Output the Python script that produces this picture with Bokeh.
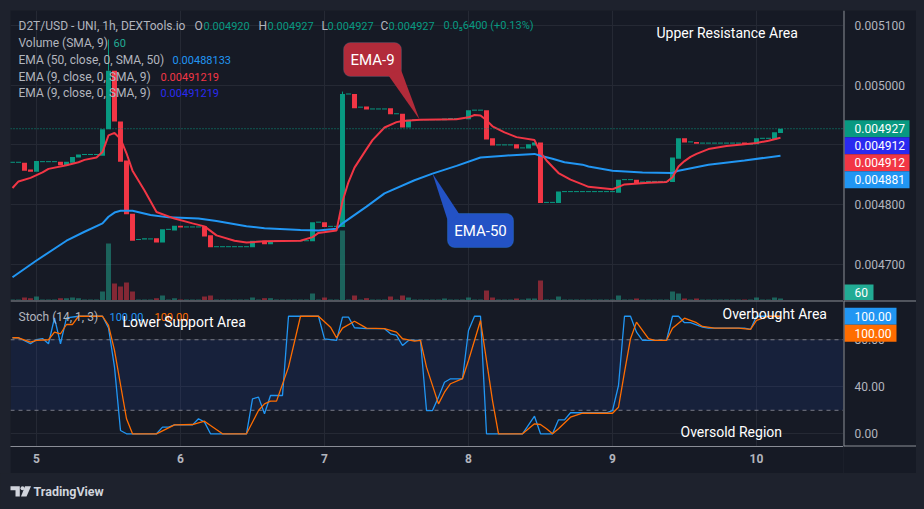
from bokeh.plotting import figure
from bokeh.models import (Range1d, FixedTicker, Span, Label,
                          BoxAnnotation, PolyAnnotation, Grid, Spacer, ColumnDataSource)
from bokeh.layouts import column, row
from bokeh.core.properties import value
from bokeh.embed import file_html
from bokeh.resources import INLINE

# ---------------- data ----------------
hours = list(range(-4, 125))          # hours since day 5, 00:00 (1h candles)
opens = [
    0.004871, 0.004871, 0.004870, 0.004859, 0.004855, 0.004872, 0.004872, 0.004872, 0.004872, 0.004866,
    0.004870, 0.004879, 0.004884, 0.004884, 0.004884, 0.004882, 0.004926, 0.005024, 0.004939, 0.004874,
    0.004785, 0.004742, 0.004742, 0.004743, 0.004744, 0.004737, 0.004759, 0.004757, 0.004765, 0.004763,
    0.004763, 0.004763, 0.004764, 0.004749, 0.004730, 0.004730, 0.004730, 0.004730, 0.004730, 0.004730,
    0.004729, 0.004739, 0.004740, 0.004734, 0.004740, 0.004740, 0.004740, 0.004740, 0.004740, 0.004740,
    0.004739, 0.004771, 0.004771, 0.004764, 0.004764, 0.004763, 0.004985, 0.004985, 0.004963, 0.004964,
    0.004960, 0.004960, 0.004960, 0.004961, 0.004952, 0.004952, 0.004929, 0.004942, 0.004942, 0.004942,
    0.004942, 0.004942, 0.004941, 0.004944, 0.004944, 0.004944, 0.004943, 0.004958, 0.004958, 0.004958,
    0.004911, 0.004900, 0.004900, 0.004900, 0.004901, 0.004895, 0.004894, 0.004899, 0.004904, 0.004804,
    0.004804, 0.004803, 0.004822, 0.004822, 0.004822, 0.004822, 0.004822, 0.004822, 0.004822, 0.004822,
    0.004822, 0.004820, 0.004842, 0.004842, 0.004842, 0.004837, 0.004839, 0.004839, 0.004839, 0.004839,
    0.004838, 0.004877, 0.004911, 0.004905, 0.004905, 0.004903, 0.004903, 0.004903, 0.004903, 0.004903,
    0.004903, 0.004903, 0.004904, 0.004901, 0.004901, 0.004911, 0.004911, 0.004909, 0.004920,
]
closes = [
    0.004871, 0.004871, 0.004857, 0.004855, 0.004873, 0.004872, 0.004872, 0.004872, 0.004866, 0.004872,
    0.004880, 0.004884, 0.004884, 0.004884, 0.004884, 0.004926, 0.005024, 0.004939, 0.004872, 0.004784,
    0.004740, 0.004742, 0.004744, 0.004743, 0.004737, 0.004759, 0.004759, 0.004765, 0.004762, 0.004763,
    0.004763, 0.004763, 0.004747, 0.004729, 0.004730, 0.004730, 0.004730, 0.004730, 0.004730, 0.004730,
    0.004740, 0.004739, 0.004734, 0.004740, 0.004740, 0.004740, 0.004740, 0.004740, 0.004740, 0.004740,
    0.004771, 0.004771, 0.004763, 0.004764, 0.004764, 0.004985, 0.004985, 0.004961, 0.004963, 0.004959,
    0.004960, 0.004960, 0.004960, 0.004951, 0.004952, 0.004929, 0.004942, 0.004942, 0.004942, 0.004942,
    0.004942, 0.004942, 0.004944, 0.004944, 0.004944, 0.004944, 0.004958, 0.004958, 0.004958, 0.004909,
    0.004899, 0.004900, 0.004900, 0.004900, 0.004894, 0.004895, 0.004901, 0.004904, 0.004803, 0.004804,
    0.004804, 0.004822, 0.004822, 0.004822, 0.004822, 0.004822, 0.004822, 0.004822, 0.004822, 0.004822,
    0.004822, 0.004842, 0.004842, 0.004842, 0.004836, 0.004839, 0.004839, 0.004839, 0.004839, 0.004839,
    0.004879, 0.004911, 0.004904, 0.004905, 0.004902, 0.004903, 0.004903, 0.004903, 0.004903, 0.004903,
    0.004903, 0.004903, 0.004901, 0.004901, 0.004911, 0.004911, 0.004911, 0.004921, 0.004927,
]
wick_hours = [12, 51]
wick_highs = [0.005076, 0.004989]
volumes = [
    30, 30, 90, 70, 120, 30, 30, 30, 70, 70,
    90, 70, 30, 30, 30, 270, 1710, 510, 420, 540,
    270, 30, 30, 30, 70, 150, 30, 70, 30, 30,
    30, 30, 120, 150, 30, 30, 30, 30, 30, 30,
    90, 30, 70, 70, 30, 30, 30, 30, 30, 30,
    210, 30, 90, 30, 30, 2100, 30, 150, 30, 70,
    30, 30, 30, 120, 30, 150, 90, 30, 30, 30,
    30, 30, 60, 30, 30, 30, 90, 30, 30, 300,
    90, 30, 30, 30, 60, 30, 60, 60, 600, 30,
    30, 120, 30, 30, 30, 30, 30, 30, 30, 30,
    30, 150, 30, 30, 60, 30, 30, 30, 30, 30,
    270, 210, 60, 30, 60, 30, 30, 30, 30, 30,
    30, 30, 30, 30, 90, 30, 30, 90, 60,
]
ema9_hours = [-4, -3, -1, 1, 2, 5, 7, 8, 10, 11, 12, 13, 14, 15, 16, 18, 20, 23, 26, 28,
              30, 33, 35, 38, 44, 46, 47, 50, 51, 52, 53, 55, 56, 58, 60, 61, 64, 70, 72, 73,
              74, 75, 76, 78, 80, 83, 84, 85, 87, 89, 91, 92, 96, 97, 98, 102, 105, 106, 107, 108,
              109, 110, 112, 115, 118, 120, 122, 124]
ema9_values = [0.004828, 0.004839, 0.004845, 0.004854, 0.004860, 0.004866, 0.004871, 0.004875, 0.004879, 0.004888,
               0.004916, 0.004920, 0.004910, 0.004886, 0.004857, 0.004824, 0.004788, 0.004777, 0.004769, 0.004764,
               0.004749, 0.004740, 0.004737, 0.004739, 0.004740, 0.004746, 0.004753, 0.004757, 0.004806, 0.004838,
               0.004862, 0.004893, 0.004908, 0.004929, 0.004938, 0.004940, 0.004942, 0.004943, 0.004946, 0.004950,
               0.004949, 0.004941, 0.004931, 0.004921, 0.004913, 0.004908, 0.004887, 0.004874, 0.004853, 0.004842,
               0.004834, 0.004830, 0.004826, 0.004830, 0.004834, 0.004837, 0.004838, 0.004846, 0.004864, 0.004873,
               0.004880, 0.004885, 0.004893, 0.004898, 0.004901, 0.004903, 0.004907, 0.004912]
ema50_hours = [-4, 0, 5, 8, 11, 12, 13, 14, 16, 19, 22, 27, 30, 35, 38, 44, 47, 50, 51, 55,
               58, 63, 66, 70, 74, 78, 83, 84, 86, 88, 91, 92, 96, 101, 106, 107, 112, 118, 124]
ema50_values = [0.004679, 0.004707, 0.004740, 0.004755, 0.004769, 0.004780, 0.004787, 0.004790, 0.004790, 0.004783,
                0.004779, 0.004777, 0.004773, 0.004764, 0.004761, 0.004758, 0.004757, 0.004760, 0.004769, 0.004797,
                0.004819, 0.004841, 0.004852, 0.004865, 0.004879, 0.004882, 0.004885, 0.004882, 0.004877, 0.004871,
                0.004867, 0.004864, 0.004857, 0.004854, 0.004853, 0.004857, 0.004867, 0.004874, 0.004882]
k_hours = [-4, -3, -1, 0, 1, 2, 3, 4, 5, 7, 11, 12, 13, 14, 15, 20, 21, 22, 23, 26,
           27, 28, 29, 35, 36, 37, 38, 39, 41, 42, 47, 48, 50, 51, 52, 53, 55, 58, 59, 60,
           61, 62, 64, 65, 66, 67, 68, 69, 71, 72, 73, 74, 75, 81, 83, 84, 86, 87, 88, 89,
           95, 96, 97, 98, 99, 100, 101, 105, 106, 107, 108, 109, 111, 112, 118, 119, 120, 124]
k_values = [81.7, 81.7, 76.6, 80, 81, 76.6, 98.7, 76.6, 98.7, 100, 100, 90, 56.7, 2.8, 0, 0, 5.7, 5.7, 7.6, 7.6,
            12.8, 9.9, 0, 0, 29.8, 31.2, 17, 32.6, 32.6, 100, 100, 80.7, 79.4, 99.3, 99.3, 90.2, 89.4, 89.4, 85.1, 83.7,
            75.1, 79.4, 79.4, 19.8, 19.8, 31.2, 43.9, 46.8, 46.8, 87.9, 100, 100, 0, 0, 15, 0, 0, 11.9, 11.9, 17.9,
            17.9, 19.8, 41.1, 100, 100, 86.5, 79.4, 79.4, 100, 100, 94.5, 94.5, 90.7, 89.9, 89.9, 88.8, 100, 100]
d_hours = [-4, -3, -1, 0, 2, 3, 4, 5, 6, 7, 11, 12, 13, 15, 16, 20, 23, 26, 28, 29,
           31, 35, 37, 38, 39, 40, 42, 44, 47, 49, 50, 51, 53, 55, 58, 60, 61, 63, 64, 65,
           67, 68, 69, 71, 72, 73, 74, 75, 76, 77, 81, 82, 83, 84, 85, 86, 87, 89, 91, 96,
           97, 98, 99, 100, 101, 102, 103, 105, 106, 108, 110, 111, 113, 117, 119, 120, 122, 124]
d_values = [81.7, 81.7, 78, 79.4, 80, 86.5, 85.1, 93, 93, 100, 100, 92.2, 70.9, 12.8, 0, 0, 7.6, 7.9, 10.7, 7,
            0, 0, 19.8, 25.5, 27.8, 27.8, 56.7, 100, 100, 90.7, 81.7, 89.9, 95.8, 89.9, 89.4, 86.5, 80.9, 78.9, 79.4, 56.7,
            25.5, 35.4, 42.6, 47, 62.4, 79.4, 96.4, 62.4, 28.3, 0, 0, 4.3, 8.5, 7.9, 4.3, 0, 4.3, 14.1, 17.5, 17.5,
            22.6, 52.4, 80.9, 95, 87.9, 80.9, 79.4, 79.4, 89.8, 98.4, 94.5, 91.3, 89.9, 89.9, 88.8, 96.4, 100, 100]

price_ticks = [0.0047, 0.0048, 0.0049, 0.0050, 0.0051]
stoch_ticks = [0, 40, 80]
day_ticks = [0, 24, 48, 72, 96, 120]
day_labels = ["5", "6", "7", "8", "9", "10"]
ema9_last = 0.00491219
ema50_last = 0.00488133
volume_last = 60
legend_title = "D2T/USD - UNI, 1h, DEXTools.io"
legend_ohlc = [("O", "0.004920"), ("H", "0.004927"), ("L", "0.004927"), ("C", "0.004927")]
legend_change = "0.0\u20856400 (+0.13%)"

assert len(opens) == len(hours) == len(closes) == len(volumes)
assert len(ema9_hours) == len(ema9_values) and len(ema50_hours) == len(ema50_values)
assert len(k_hours) == len(k_values) and len(d_hours) == len(d_values)

# ---------------- style ----------------
OUTER = "#1e222d"
INNER = "#161a25"
GRID = "#252934"
SEP = "#8a8d96"
TXT = "#b2b5be"
UP = "#089981"
DOWN = "#f23645"
EMA50_C = "#2196f3"
EMA9_C = "#f23645"
EMA9B_C = "#2a2af0"
K_C = "#2196f3"
D_C = "#ff6d00"
FONT = "Roboto"

X_START, X_END = -4.3333, 134.5
P_BOT, P_TOP = 0.0046402, 0.0051244
S_BOT, S_TOP = -10.8, 113.4
MAIN_H, STOCH_H = 290, 146
P_PX = (P_TOP - P_BOT) / MAIN_H       # price per pixel
S_PX = (S_TOP - S_BOT) / STOCH_H      # stoch units per pixel


def hx(px):
    return X_START + (px - 10) / 6.0


def py_main(y):
    return P_TOP - (y - 10) * P_PX


def py_stoch(y):
    return S_TOP - (y - 300) * S_PX


def add_text(p, x, y, text, color, size="12px", style="normal", align="left"):
    p.add_layout(Label(x=x, y=y, text=text, text_color=color, text_font=FONT, text_font_size=size,
                       text_font_style=style, text_align=align, text_baseline="middle"))


def style_common(p):
    p.background_fill_color = INNER
    p.border_fill_color = INNER
    p.outline_line_color = None
    for g in p.grid:
        g.visible = False


def scale_panel(height, y_range, bottom):
    s = figure(width=73, height=height, x_range=Range1d(0, 73), y_range=y_range,
               output_backend="svg", toolbar_location=None, tools="", x_axis_location=None,
               y_axis_location=None, min_border_left=0, min_border_right=0, min_border_top=0,
               min_border_bottom=bottom)
    style_common(s)
    s.add_layout(Span(location=0, dimension="height", line_color=SEP, line_width=2))
    return s


def tag(s, yc, half, text, bg, width):
    s.quad(left=[1], right=[1 + width], top=[yc + half], bottom=[yc - half], fill_color=bg, line_color=None)
    s.text(x=[11], y=[yc], text=[text], text_color="#ffffff", text_font=value(FONT),
           text_font_size="12px", text_baseline="middle", text_align="left")


# ---------------- main pane ----------------
p1 = figure(width=833, height=MAIN_H, x_range=Range1d(X_START, X_END), y_range=Range1d(P_BOT, P_TOP),
            output_backend="svg", toolbar_location=None, tools="", x_axis_location=None,
            y_axis_location=None, min_border=0)
style_common(p1)
p1.add_layout(Grid(dimension=0, ticker=FixedTicker(ticks=day_ticks), grid_line_color=GRID))
p1.add_layout(Grid(dimension=1, ticker=FixedTicker(ticks=price_ticks), grid_line_color=GRID))

p1.extra_y_ranges = {"vol": Range1d(0, MAIN_H * 30)}
up = [c >= o for o, c in zip(opens, closes)]
vol_colors = ["#22ab94" if u else DOWN for u in up]
p1.vbar(x=hours, top=volumes, width=0.83, y_range_name="vol", fill_color=vol_colors,
        fill_alpha=0.5, line_color=None)

body = dict(x=[], top=[], bottom=[], color=[])
flat = dict(x0=[], x1=[], y=[])
for h, o, c, u in zip(hours, opens, closes, up):
    if o == c:
        flat["x0"].append(h - 0.415)
        flat["x1"].append(h + 0.415)
        flat["y"].append(c)
    else:
        body["x"].append(h)
        body["top"].append(max(o, c))
        body["bottom"].append(min(o, c))
        body["color"].append(UP if u else DOWN)
wick_base = [max(opens[hours.index(h)], closes[hours.index(h)]) for h in wick_hours]
p1.segment(x0=wick_hours, x1=wick_hours, y0=wick_base, y1=wick_highs, line_color=UP, line_width=1)
p1.vbar(x="x", top="top", bottom="bottom", width=0.83, fill_color="color", line_color=None,
        source=ColumnDataSource(body))
p1.segment(x0="x0", y0="y", x1="x1", y1="y", line_color=UP, line_width=1, source=ColumnDataSource(flat))

p1.line(ema50_hours, ema50_values, line_color=EMA50_C, line_width=2)
p1.line(ema9_hours, ema9_values, line_color=EMA9_C, line_width=2)

p1.add_layout(Span(location=closes[-1], dimension="width", line_color=UP, line_dash="1 2", line_width=1))

# legend
add_text(p1, hx(18), py_main(25), legend_title, TXT)
for (lab, val), xl, xv in zip(legend_ohlc, [194, 258, 321, 380], [203, 267, 327, 388]):
    add_text(p1, hx(xl), py_main(25), lab, TXT)
    add_text(p1, hx(xv), py_main(25), val, UP, size="11px")
add_text(p1, hx(443), py_main(25), legend_change, UP, size="11px")
add_text(p1, hx(18), py_main(42.5), "Volume (SMA, 9)", TXT)
add_text(p1, hx(113), py_main(42.5), str(volume_last), "#22ab94", size="11px")
add_text(p1, hx(18), py_main(59), "EMA (50, close, 0, SMA, 50)", TXT)
add_text(p1, hx(172), py_main(59), f"{ema50_last:.8f}", EMA50_C, size="11px")
add_text(p1, hx(18), py_main(76), "EMA (9, close, 0, SMA, 9)", TXT)
add_text(p1, hx(160), py_main(76), f"{ema9_last:.8f}", EMA9_C, size="11px")
add_text(p1, hx(18), py_main(92), "EMA (9, close, 0, SMA, 9)", TXT)
add_text(p1, hx(160), py_main(92), f"{ema9_last:.8f}", EMA9B_C, size="11px")

add_text(p1, hx(656), py_main(32), "Upper Resistance Area", "#ffffff", size="14px")

# callouts
p1.add_layout(BoxAnnotation(left=hx(343), right=hx(401), top=py_main(42), bottom=py_main(76),
                            fill_color="#b22b3a", fill_alpha=1.0, line_color="#2d6f8c", line_width=1,
                            border_radius=7))
p1.add_layout(PolyAnnotation(xs=[hx(388), hx(400), hx(419)], ys=[py_main(75), py_main(68), py_main(119)],
                             fill_color="#b22b3a", fill_alpha=1.0, line_color=None))
add_text(p1, hx(372), py_main(59), "EMA-9", "#ffffff", size="15px", align="center")
p1.add_layout(BoxAnnotation(left=hx(447), right=hx(513), top=py_main(213), bottom=py_main(247),
                            fill_color="#2352c5", fill_alpha=1.0, line_color="#2a8be0", line_width=1,
                            border_radius=7))
p1.add_layout(PolyAnnotation(xs=[hx(448.5), hx(459), hx(432)], ys=[py_main(224), py_main(214), py_main(173)],
                             fill_color="#2352c5", fill_alpha=1.0, line_color=None))
add_text(p1, hx(480), py_main(230), "EMA-50", "#ffffff", size="15px", align="center")

# ---------------- price scale panel ----------------
p1r = scale_panel(MAIN_H, p1.y_range, 0)
p1r.text(x=[11] * len(price_ticks), y=price_ticks, text=[f"{t:.6f}" for t in price_ticks],
         text_color=TXT, text_font=value(FONT), text_font_size="12px", text_baseline="middle")
tags = [(f"{closes[-1]:.6f}", UP), (f"{ema9_last:.6f}", EMA9B_C),
        (f"{ema9_last:.6f}", EMA9_C), (f"{ema50_last:.6f}", EMA50_C)]
for i, (t, c) in enumerate(tags):
    tag(p1r, closes[-1] - 17 * i * P_PX, 8.5 * P_PX, t, c, 65)
tag(p1r, py_main(292), 8 * P_PX, str(volume_last), "#22ab94", 29)

# ---------------- stochastic pane ----------------
p2 = figure(width=833, height=173, x_range=p1.x_range, y_range=Range1d(S_BOT, S_TOP),
            output_backend="svg", toolbar_location=None, tools="", x_axis_location="below",
            y_axis_location=None, min_border_left=0, min_border_right=0,
            min_border_top=0, min_border_bottom=27)
style_common(p2)
p2.add_layout(Grid(dimension=0, ticker=FixedTicker(ticks=day_ticks), grid_line_color=GRID))
p2.add_layout(Grid(dimension=1, ticker=FixedTicker(ticks=stoch_ticks), grid_line_color=GRID))
p2.add_layout(BoxAnnotation(bottom=20, top=80, fill_color="#2962ff", fill_alpha=0.1,
                            line_color=None, level="underlay"))
for lv in (20, 80):
    p2.add_layout(Span(location=lv, dimension="width", line_color="#787b86", line_dash="4 4",
                       line_width=1, level="underlay"))
p2.add_layout(Span(location=S_TOP, dimension="width", line_color=SEP, line_width=2))

axx = p2.xaxis[0]
axx.ticker = FixedTicker(ticks=day_ticks)
axx.major_label_overrides = {t: l for t, l in zip(day_ticks, day_labels)}
axx.major_tick_line_color = None
axx.minor_tick_line_color = None
axx.major_tick_out = 0
axx.major_tick_in = 0
axx.axis_line_color = SEP
axx.major_label_text_color = TXT
axx.major_label_text_font = FONT
axx.major_label_text_font_size = "12px"
axx.major_label_text_font_style = "bold"
axx.major_label_standoff = 7

p2.line(k_hours, k_values, line_color=K_C, line_width=1.3)
p2.line(d_hours, d_values, line_color=D_C, line_width=1.3)

add_text(p2, hx(18), py_stoch(316), "Stoch (14, 1, 3)", TXT)
add_text(p2, hx(109), py_stoch(316), f"{k_values[-1]:.2f}", K_C, size="11px")
add_text(p2, hx(154), py_stoch(316), f"{d_values[-1]:.2f}", D_C, size="11px")
add_text(p2, hx(122), py_stoch(321), "Lower Support Area", "#ffffff", size="14px")
add_text(p2, hx(722), py_stoch(313), "Overbought Area", "#ffffff", size="14px")
add_text(p2, hx(680), py_stoch(431), "Oversold Region", "#ffffff", size="14px")

# ---------------- stochastic scale panel ----------------
p2r = scale_panel(173, p2.y_range, 27)
p2r.add_layout(Span(location=S_TOP, dimension="width", line_color=SEP, line_width=2))
p2r.add_layout(Span(location=S_BOT, dimension="width", line_color=SEP, line_width=2))
p2r.text(x=[11] * len(stoch_ticks), y=stoch_ticks, text=[f"{t:.2f}" for t in stoch_ticks],
         text_color=TXT, text_font=value(FONT), text_font_size="12px", text_baseline="middle")
tag(p2r, k_values[-1], 8.5 * S_PX, f"{k_values[-1]:.2f}", K_C, 52)
tag(p2r, k_values[-1] - 17 * S_PX, 8.5 * S_PX, f"{d_values[-1]:.2f}", D_C, 52)

# ---------------- bottom strip with logo ----------------
p3 = figure(width=924, height=36, x_range=Range1d(0, 924), y_range=Range1d(36, 0),
            output_backend="svg", toolbar_location=None, tools="", x_axis_location=None,
            y_axis_location=None, min_border=0)
p3.background_fill_color = OUTER
p3.border_fill_color = OUTER
p3.outline_line_color = None
for g in p3.grid:
    g.visible = False
LOGO = "#d1d4dc"
p3.patch([10, 19.3, 19.3, 15, 15, 10], [12.7, 12.7, 23, 23, 16.7, 16.7], fill_color=LOGO, line_color=None)
p3.circle(x=[22], y=[14.7], radius=2.0, fill_color=LOGO, line_color=None)
p3.patch([24.5, 30.5, 26, 20.5], [12.7, 12.7, 23, 23], fill_color=LOGO, line_color=None)
p3.add_layout(Label(x=33, y=18, text="TradingView", text_color=LOGO, text_font=FONT,
                    text_font_size="12.5px", text_font_style="bold", text_baseline="middle"))

inner = column(row(p1, p1r), row(p2, p2r))
mid = row(Spacer(width=10, height=463), inner, Spacer(width=8, height=463))
root = column(Spacer(width=924, height=10), mid, p3, styles={"background-color": OUTER})

open("out.html", "w").write(file_html(root, INLINE))
